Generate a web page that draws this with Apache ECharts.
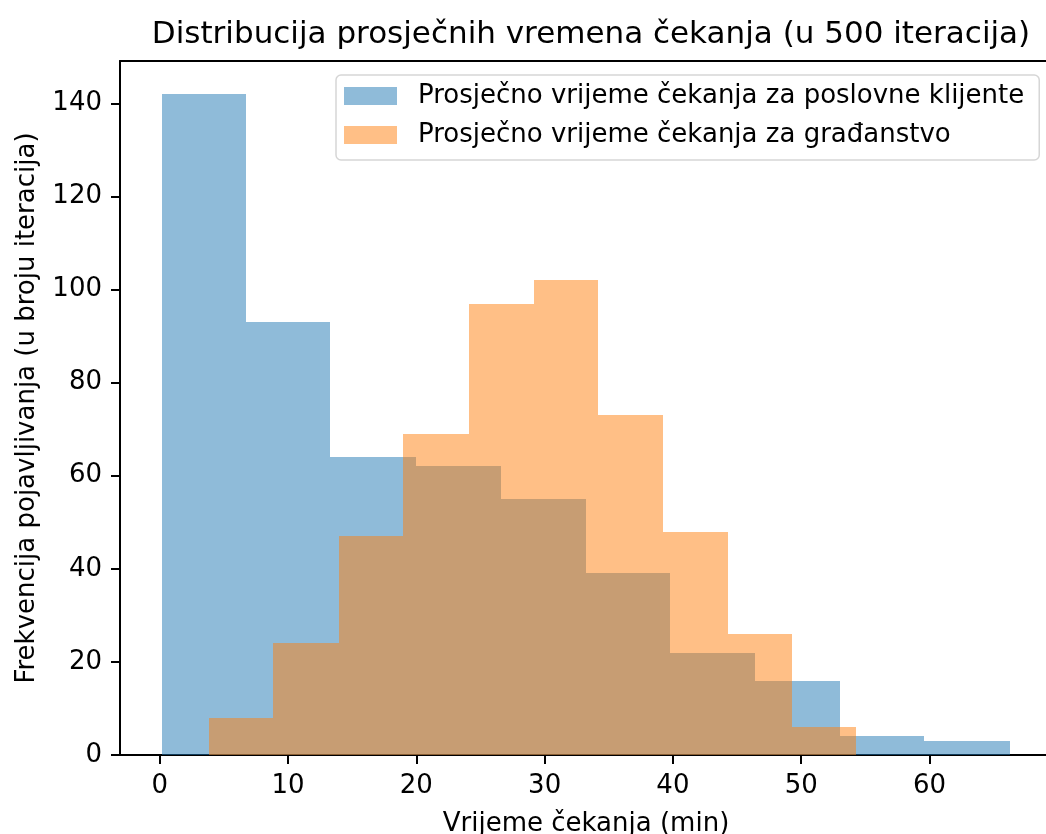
<!DOCTYPE html>
<html>
<head>
<meta charset="utf-8">
<script src="https://cdn.jsdelivr.net/npm/echarts@6/dist/echarts.min.js"></script>
<style>html,body{margin:0;padding:0;background:#fff;overflow:hidden;}#c{width:1046px;height:834px;}</style>
</head>
<body>
<div id="c"></div>
<script>
// ---- data ----
const titleText = 'Distribucija prosječnih vremena čekanja (u 500 iteracija)';
const xLabel = 'Vrijeme čekanja (min)';
const yLabel = 'Frekvencija pojavljivanja (u broju iteracija)';
const seriesNames = ['Prosječno vrijeme čekanja za poslovne klijente', 'Prosječno vrijeme čekanja za građanstvo'];
const businessEdges = [0.2, 6.75, 13.3, 20.0, 26.6, 33.2, 39.8, 46.4, 53.0, 59.6, 66.25];
const businessCounts = [142, 93, 64, 62, 55, 39, 22, 16, 4, 3];
const citizenEdges = [3.86, 8.85, 13.95, 18.98, 24.1, 29.15, 34.18, 39.2, 44.3, 49.32, 54.31];
const citizenCounts = [8, 24, 47, 69, 97, 102, 73, 48, 26, 6];
const xTicks = [0, 10, 20, 30, 40, 50, 60];
const yTicks = [0, 20, 40, 60, 80, 100, 120, 140];

function toBins(edges, counts) {
  return counts.map((c, i) => [edges[i], edges[i + 1], c]);
}

function renderItem(params, api) {
  const p0 = api.coord([api.value(0), api.value(2)]);
  const p1 = api.coord([api.value(1), 0]);
  const x0 = Math.round(p0[0]), x1 = Math.round(p1[0]);
  const y0 = Math.round(p0[1]), y1 = p1[1];
  return {
    type: 'rect',
    shape: { x: x0, y: y0, width: x1 - x0, height: y1 - y0 },
    style: { fill: api.visual('color') }
  };
}

const FONT = 'DejaVu Sans';
const spine = { show: true, onZero: false, lineStyle: { color: '#000', width: 2 } };
const chart = echarts.init(document.getElementById('c'), null, { renderer: 'canvas' });
chart.setOption({
  animation: false,
  backgroundColor: '#fff',
  textStyle: { fontFamily: FONT, color: '#000' },
  title: {
    text: titleText,
    left: 586,
    textAlign: 'center',
    top: 14,
    textStyle: { fontFamily: FONT, fontSize: 31, fontWeight: 'normal', color: '#000' }
  },
  legend: {
    orient: 'vertical',
    left: 336,
    top: 75,
    padding: [8, 15, 12, 8],
    itemWidth: 53,
    itemHeight: 18,
    itemGap: 13,
    icon: 'rect',
    backgroundColor: '#fff',
    borderColor: '#d6d6d6',
    borderWidth: 1.5,
    borderRadius: 5,
    data: seriesNames,
    textStyle: { fontFamily: FONT, fontSize: 26, color: '#000', padding: [0, 0, 0, 16] }
  },
  grid: {
    left: 120, top: 61, width: 932, height: 694,
    show: false,
    containLabel: false,
    outerBoundsMode: 'none'
  },
  xAxis: [{
    type: 'value',
    position: 'bottom',
    min: -3.1, max: 69.55,
    name: xLabel,
    nameLocation: 'middle',
    nameGap: 56,
    nameTextStyle: { fontFamily: FONT, fontSize: 26, color: '#000' },
    axisLine: spine,
    axisTick: { show: true, length: 9, lineStyle: { color: '#000', width: 2 }, customValues: xTicks },
    axisLabel: { fontFamily: FONT, fontSize: 26, color: '#000', margin: 18, customValues: xTicks },
    splitLine: { show: false }
  }, {
    type: 'value',
    position: 'top',
    min: -3.1, max: 69.55,
    axisLine: spine,
    axisTick: { show: false },
    axisLabel: { show: false },
    splitLine: { show: false }
  }],
  yAxis: {
    type: 'value',
    min: 0, max: 149.1,
    name: yLabel,
    nameLocation: 'middle',
    nameGap: 80,
    nameTextStyle: { fontFamily: FONT, fontSize: 26, color: '#000' },
    axisLine: spine,
    axisTick: { show: true, length: 9, lineStyle: { color: '#000', width: 2 }, customValues: yTicks },
    axisLabel: { fontFamily: FONT, fontSize: 26, color: '#000', margin: 18, customValues: yTicks },
    splitLine: { show: false }
  },
  series: [
    {
      name: seriesNames[0],
      type: 'custom',
      renderItem: renderItem,
      itemStyle: { color: 'rgba(31,119,180,0.5)' },
      encode: { x: [0, 1], y: 2 },
      data: toBins(businessEdges, businessCounts),
      silent: true
    },
    {
      name: seriesNames[1],
      type: 'custom',
      renderItem: renderItem,
      itemStyle: { color: 'rgba(255,127,14,0.5)' },
      encode: { x: [0, 1], y: 2 },
      data: toBins(citizenEdges, citizenCounts),
      silent: true
    }
  ]
});
</script>
</body>
</html>
